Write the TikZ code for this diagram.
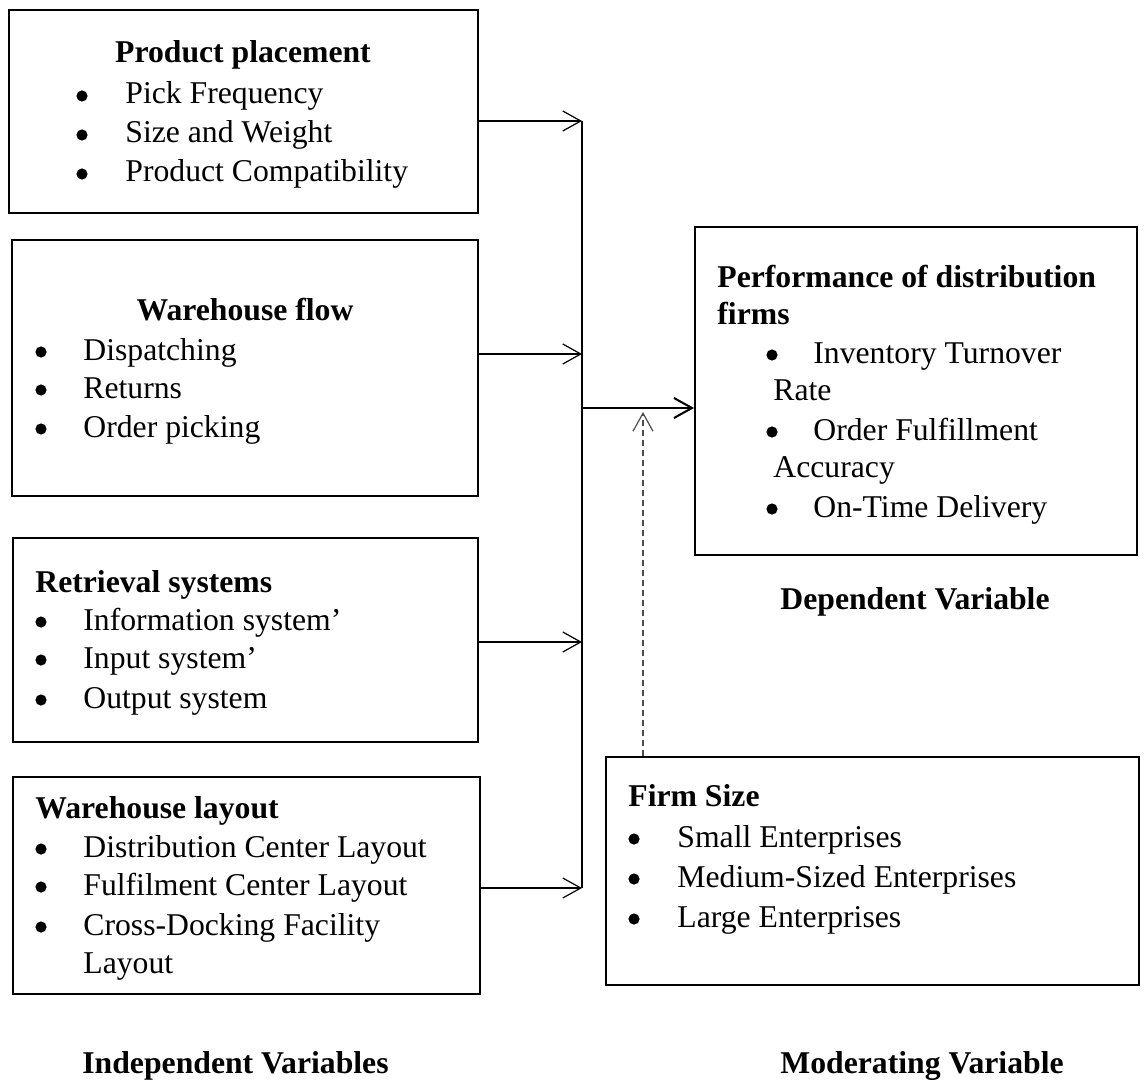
\documentclass[tikz,border=0pt]{standalone}
\usepackage{fontspec}
\setmainfont{Liberation Serif}
\usetikzlibrary{arrows.meta,fit}

\begin{document}
\begin{tikzpicture}[x=0.5pt,y=-0.5pt,
  font=\fontsize{15.85}{19.5}\selectfont,
  box/.style={draw,line width=1pt,inner sep=0pt},
  head/.style={font=\fontsize{15.85}{19.5}\selectfont\bfseries,inner sep=0pt},
  txt/.style={anchor=base west,inner sep=0pt},
  dot/.style={circle,fill,inner sep=0pt,minimum size=5.6pt},
  arr/.style={-{Straight Barb[length=9pt,width=10pt]},line width=0.6pt}]
\useasboundingbox (0,0) rectangle (1144,1080);

\node[box,line width=0.6pt,fit={(9,10) (478,213)}] (pp) {};
\node[box,fit={(12,240) (478,496)}] (wf) {};
\node[box,fit={(13,538) (478,742)}] (rs) {};
\node[box,fit={(13,777) (480,994)}] (wl) {};
\node[box,fit={(695,227) (1137,555)}] (perf) {};
\node[box,fit={(606,757) (1139,985)}] (fs) {};

\node[head,anchor=base] (pph) at (243,63) {Product placement};
\foreach \t/\y [count=\i] in {Pick Frequency/104,Size and Weight/143,Product Compatibility/182}{
  \node[dot] (ppd\i) at (82,\y-8) {};
  \node[txt] (ppt\i) at (125,\y) {\t};
}

\node[head,anchor=base] (wfh) at (245,321) {Warehouse flow};
\foreach \t/\y [count=\i] in {Dispatching/360,Returns/398,Order picking/437}{
  \node[dot] (wfd\i) at (41,\y-8) {};
  \node[txt] (wft\i) at (83,\y) {\t};
}

\node[head,anchor=base west] (rsh) at (35,592) {Retrieval systems};
\foreach \t/\y [count=\i] in {Information system'/630,Input system'/668,Output system/708}{
  \node[dot] (rsd\i) at (41,\y-8) {};
  \node[txt] (rst\i) at (83,\y) {\t};
}

\node[head,anchor=base west] (wlh) at (35,818) {Warehouse layout};
\foreach \t/\y [count=\i] in {Distribution Center Layout/857,Fulfilment Center Layout/895,Cross-Docking Facility/935}{
  \node[dot] (wld\i) at (41,\y-8) {};
  \node[txt] (wlt\i) at (83,\y) {\t};
}
\node[txt] (wlt4) at (83,973) {Layout};

\node[head,anchor=base west] (perfh) at (717,288) {Performance of distribution};
\node[head,anchor=base west] (perfh2) at (717,325) {firms};
\foreach \t/\y [count=\i] in {Inventory Turnover/363,Order Fulfillment/440,On-Time Delivery/517}{
  \node[dot] (perfd\i) at (772,\y-8) {};
  \node[txt] (perft\i) at (813,\y) {\t};
}
\node[txt] (perfr1) at (773,400) {Rate};
\node[txt] (perfr2) at (773,477) {Accuracy};

\node[head,anchor=base west] (fsh) at (628,806) {Firm Size};
\foreach \t/\y [count=\i] in {Small Enterprises/847,Medium-Sized Enterprises/887,Large Enterprises/927}{
  \node[dot] (fsd\i) at (634,\y-8) {};
  \node[txt] (fst\i) at (677,\y) {\t};
}

\node[head,anchor=base] (dv) at (915,609) {Dependent Variable};
\node[head,anchor=base west] (iv) at (82,1073) {Independent Variables};
\node[head,anchor=base] (mv) at (922,1073) {Moderating Variable};

\coordinate (j1) at (582,121);
\coordinate (j2) at (582,354);
\coordinate (j3) at (582,642);
\coordinate (j4) at (582,888);
\coordinate (jm) at (582,408);
\coordinate (dm) at (643,412);
\draw[line width=1pt] (j1) -- (j4);
\draw[arr] (pp.east |- j1) -- (j1);
\draw[arr] (wf.east |- j2) -- (j2);
\draw[arr] (rs.east |- j3) -- (j3);
\draw[arr] (wl.east |- j4) -- (j4);
\draw[arr,line width=1pt] (jm) -- (perf.west |- jm);
\draw[arr,dashed,dash pattern=on 3pt off 2pt,black!70] (fs.north -| dm) -- (dm);
\end{tikzpicture}
\end{document}
